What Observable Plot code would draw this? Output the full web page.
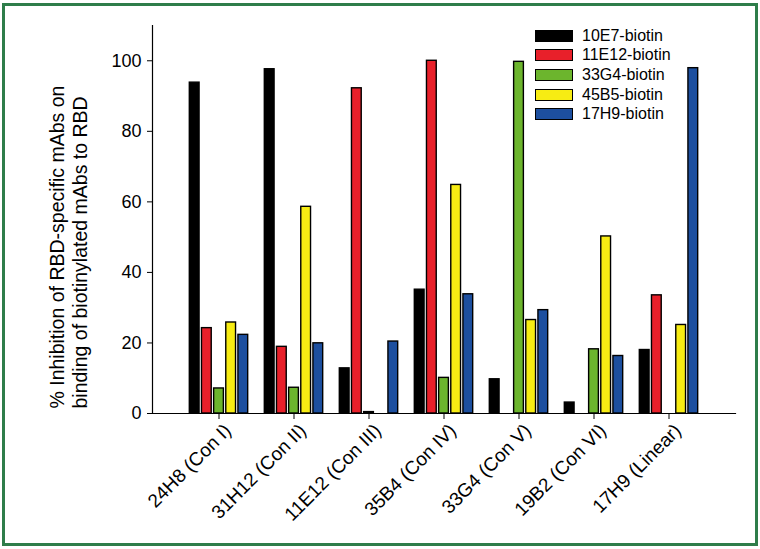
<!DOCTYPE html>
<html>
<head>
<meta charset="utf-8">
<script src="https://cdn.jsdelivr.net/npm/d3@7"></script>
<script src="https://cdn.jsdelivr.net/npm/@observablehq/plot@0.6"></script>
<style>
  html, body { margin: 0; padding: 0; background: #fff; }
  #wrap { position: relative; width: 760px; height: 549px; overflow: hidden; font-family: Arial, "Liberation Sans", sans-serif; }
  #border { position: absolute; left: 2px; top: 3px; width: 756px; height: 543px; box-sizing: border-box; border: 3px solid #2e7d4a; pointer-events: none; }
  #legend { position: absolute; left: 535px; top: 26px; font-size: 16px; color: #000; }
  .row { display: flex; align-items: center; height: 19.6px; }
  .sw { width: 36px; height: 10px; border: 1.5px solid #000; margin-right: 9px; }
  svg { position: absolute; left: 0; top: 0; }
</style>
</head>
<body>
<div id="wrap"></div>
<script>
const groups = ["24H8 (Con I)", "31H12 (Con II)", "11E12 (Con III)", "35B4 (Con IV)", "33G4 (Con V)", "19B2 (Con VI)", "17H9 (Linear)"];
const series = ["10E7-biotin", "11E12-biotin", "33G4-biotin", "45B5-biotin", "17H9-biotin"];
const colors = ["#000000", "#e8202a", "#6cb52d", "#f7ec13", "#1d4f9f"];
const v10E7  = [93.8, 97.6, 12.8, 35.1, 9.7, 3.1, 18.0];
const v11E12 = [24.2, 18.9, 92.2, 100.0, null, null, 33.5];
const v33G4  = [7.1, 7.3, 0.4, 10.1, 99.7, 18.2, null];
const v45B5  = [25.8, 58.6, null, 64.8, 26.5, 50.2, 25.1];
const v17H9  = [22.3, 19.9, 20.4, 33.8, 29.3, 16.3, 97.9];
const yTicks = [0, 20, 40, 60, 80, 100];
const yLabel = "% Inhibition of RBD-specific mAbs on\nbinding of biotinylated mAbs to RBD";

const allValues = [v10E7, v11E12, v33G4, v45B5, v17H9];
const rows = [];
series.forEach((s, si) => groups.forEach((g, gi) => {
  const v = allValues[si][gi];
  if (v != null) rows.push({group: g, series: s, value: v});
}));

const W = 760, H = 549;
const mL = 152, mR = 25, mT = 25, mB = 136;
const inset = 27;
const bw = (W - mL - mR - 2 * inset) / groups.length;
const sub = d3.scaleBand(series, [-bw * 0.39, bw * 0.39]).paddingInner(0.15);
const barW = sub.bandwidth();

const barMarks = series.map((s, i) => {
  const off = sub(s) + barW / 2;
  return Plot.barY(rows.filter(d => d.series === s), {
    x: "group", y: "value", fill: colors[i], stroke: "#000", strokeWidth: 1.4,
    insetLeft: bw / 2 - barW / 2 + off, insetRight: bw / 2 - barW / 2 - off
  });
});

const chart = Plot.plot({
  width: W, height: H,
  marginLeft: mL, marginRight: mR, marginTop: mT, marginBottom: mB,
  style: {fontFamily: "Arial, 'Liberation Sans', sans-serif", background: "transparent"},
  x: {domain: groups, padding: 0, insetLeft: inset, insetRight: inset},
  y: {domain: [0, 110]},
  marks: [
    ...barMarks,
    Plot.frame({anchor: "left", stroke: "#000", strokeWidth: 1.2}),
    Plot.frame({anchor: "bottom", stroke: "#000", strokeWidth: 1.2}),
    Plot.axisY({ticks: yTicks, tickSize: 5, tickPadding: 6, fontSize: 18, label: null, stroke: "#000", fill: "#000"}),
    Plot.axisX({ticks: groups, tickSize: 6, label: null, stroke: "#000", text: null}),
    Plot.axisX({ticks: groups, tickRotate: -45, tickSize: 0, tickPadding: 10, dx: 9, dy: 4, fontSize: 19, label: null, fill: "#000"}),
    Plot.text([yLabel], {frameAnchor: "left", text: d => d, rotate: -90, textAnchor: "start", lineHeight: 1.16, fontSize: 19.5, dx: -84, dy: 189, fill: "#000"})
  ]
});

const wrap = document.getElementById("wrap");
wrap.appendChild(chart);

const legend = document.createElement("div");
legend.id = "legend";
series.forEach((s, i) => {
  const r = document.createElement("div");
  r.className = "row";
  const sw = document.createElement("div");
  sw.className = "sw";
  sw.style.background = colors[i];
  const t = document.createElement("span");
  t.textContent = s;
  r.appendChild(sw); r.appendChild(t);
  legend.appendChild(r);
});
wrap.appendChild(legend);

const border = document.createElement("div");
border.id = "border";
wrap.appendChild(border);
</script>
</body>
</html>
